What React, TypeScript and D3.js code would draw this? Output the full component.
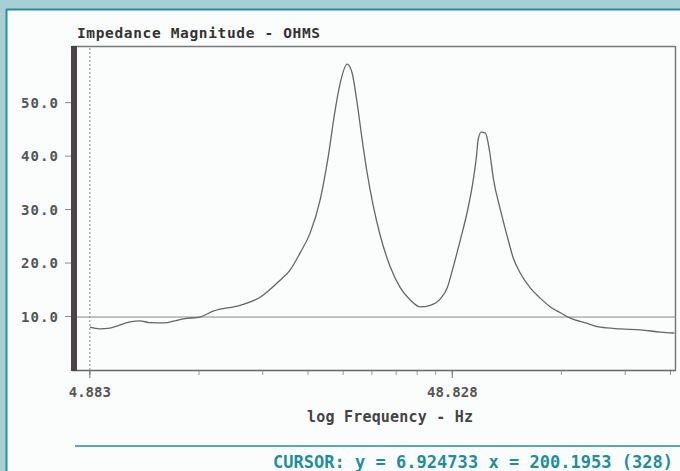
import React from 'react';
import * as d3 from 'd3';

const W = 680;
const H = 471;

// impedance curve (Hz, ohms)
const freqs = [
  4.883, 5.2, 5.55, 6.3, 6.71, 7.15, 7.87, 8.38, 8.94, 9.83, 10.68, 12.68, 14.4, 16.35,
  17.42, 18.57, 19.79, 21.09, 22.19, 23.2, 23.95, 25.04, 25.85, 26.68, 27.55, 28.44,
  29.54, 30.88, 32.92, 35.08, 37.39, 39.83, 42.45, 45.25, 47.3, 49.14, 51.38, 53.71,
  55.81, 56.9, 57.62, 58.73, 60.27, 61.82, 63.39, 66.27, 69.29, 71.98, 75.25, 80.23, 85.5,
  91.07, 97.07, 103.4, 113.8, 125.2, 142.2, 161.4, 183.4, 200.195,
];
const ohms = [
  8.0, 7.7, 7.85, 9.0, 9.2, 8.85, 8.8, 9.2, 9.6, 9.9, 11.0, 12.1, 13.6, 16.8,
  18.7, 21.9, 25.6, 31.8, 39.8, 48.6, 53.6, 57.2, 55.5, 49.9, 43.0, 36.8,
  30.8, 25.2, 19.3, 15.4, 13.1, 11.8, 12.1, 13.3, 15.4, 19.3, 24.3, 29.6,
  35.6, 39.8, 43.3, 44.5, 44.3, 41.1, 35.8, 30.0, 24.9, 20.9, 18.1, 15.3, 13.4,
  11.8, 10.7, 9.7, 8.8, 8.0, 7.7, 7.5, 7.1, 6.92,
];

const yTicks = [10, 20, 30, 40, 50];
const xMinorTicks = [
  4.883, 9.766, 14.649, 19.532, 24.415, 29.298, 34.181, 39.064, 43.947, 48.828,
  97.656, 146.484, 195.312,
];
const xLabels = [4.883, 48.828];
const refLevel = 10;
const cursorText = 'CURSOR: y = 6.924733 x = 200.1953 (328)';

const mono = '"DejaVu Sans Mono", "Liberation Mono", monospace';

export default function App() {
  const left = 77;
  const right = 675;
  const top = 46;
  const bottom = 370;

  const x = d3.scaleLog().domain([4.5, 201]).range([left, right]);
  const y = d3.scaleLinear().domain([0, 60.6]).range([bottom, top]);

  const line = d3
    .line<number>()
    .x((_, i) => x(freqs[i]))
    .y((d) => y(d))
    .curve(d3.curveMonotoneX);

  const cx = x(4.883);

  return (
    <div style={{ position: 'fixed', left: 0, top: 0 }}>
      <svg width={W} height={H} style={{ display: 'block' }}>
        <rect x={0} y={0} width={W} height={H} fill="#a7cfd6" />
        <rect x={6} y={9} width={W - 6} height={H - 9} fill="#fbfcfc" />
        <line x1={6} x2={W} y1={9.5} y2={9.5} stroke="#2a8d9b" strokeWidth={2} />
        <line x1={6.5} x2={6.5} y1={9} y2={H} stroke="#2a8d9b" strokeWidth={2} />

        <text x={77} y={38} fontFamily={mono} fontSize={14.5} fontWeight="bold" fill="#333" textLength={243}>
          Impedance Magnitude - OHMS
        </text>

        {/* plot frame */}
        <line x1={left - 5} x2={right} y1={top + 0.5} y2={top + 0.5} stroke="#777" strokeWidth={1.5} />
        <line x1={right + 0.5} x2={right + 0.5} y1={top} y2={bottom} stroke="#777" strokeWidth={1.5} />
        <line x1={left - 5} x2={right + 1} y1={bottom + 0.5} y2={bottom + 0.5} stroke="#666" strokeWidth={1.5} />
        <rect x={71} y={top} width={6} height={bottom - top + 1} fill="#4b4349" />

        {/* cursor line at the first bin */}
        <line x1={cx} x2={cx} y1={top + 2} y2={bottom + 6} stroke="#888" strokeWidth={1} strokeDasharray="2,2" />

        {/* reference level */}
        <line x1={left} x2={right} y1={y(refLevel) + 0.5} y2={y(refLevel) + 0.5} stroke="#8a8a8a" strokeWidth={1} />

        {yTicks.map((t) => (
          <g key={t}>
            <line x1={65} x2={71} y1={y(t)} y2={y(t)} stroke="#888" strokeWidth={1} />
            <text x={58} y={y(t) + 5} textAnchor="end" fontFamily={mono} fontSize={14} fontWeight="bold" fill="#555" textLength={37}>
              {t.toFixed(1)}
            </text>
          </g>
        ))}

        {xMinorTicks.map((t) => (
          <line key={t} x1={x(t)} x2={x(t)} y1={bottom + 1} y2={bottom + 5} stroke="#999" strokeWidth={1} />
        ))}
        {xLabels.map((t) => (
          <g key={t}>
            <line x1={x(t)} x2={x(t)} y1={bottom + 1} y2={bottom + 8} stroke="#777" strokeWidth={1} />
            <text x={x(t)} y={397} textAnchor="middle" fontFamily={mono} fontSize={14} fontWeight="bold" fill="#555">
              {t.toFixed(3)}
            </text>
          </g>
        ))}

        <text x={390} y={422} textAnchor="middle" fontFamily={mono} fontSize={15} fontWeight="bold" fill="#444" textLength={166}>
          log Frequency - Hz
        </text>

        <path d={line(ohms) || ''} fill="none" stroke="#666" strokeWidth={1.3} />

        <line x1={75} x2={W} y1={446} y2={446} stroke="#5aa9b2" strokeWidth={2} />
        <text x={273} y={468} fontFamily={mono} fontSize={17} fontWeight="bold" fill="#1f8e9c" textLength={400}>
          {cursorText}
        </text>
      </svg>
    </div>
  );
}
